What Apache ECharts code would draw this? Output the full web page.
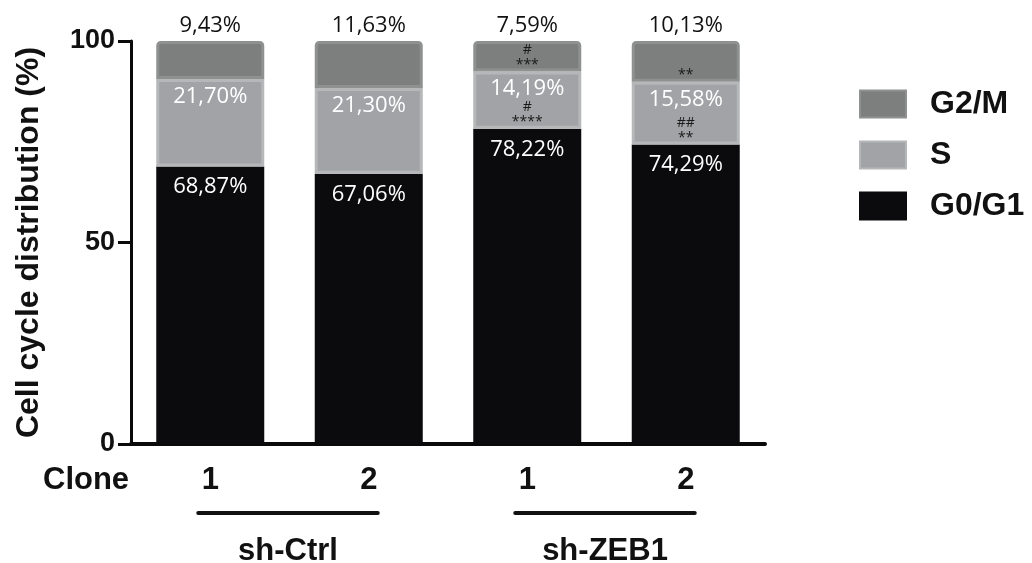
<!DOCTYPE html>
<html>
<head>
<meta charset="utf-8">
<script src="https://cdn.jsdelivr.net/npm/echarts@6/dist/echarts.min.js"></script>
<style>
html,body{margin:0;padding:0;background:#fff;}
#chart{width:1032px;height:563px;}
</style>
</head>
<body>
<div id="chart"></div>
<script>
// ---- data ----
const categories = ['1', '2', '1', '2'];
const groups = ['sh-Ctrl', 'sh-ZEB1'];
const groupSpans = [[0, 1], [2, 3]];
const g0g1 = [68.87, 67.06, 78.22, 74.29];
const sPhase = [21.70, 21.30, 14.19, 15.58];
const g2m = [9.43, 11.63, 7.59, 10.13];
const g2mMarks = [[' ', ' '], [' ', ' '], ['#', '***'], [' ', '**']];
const sMarks = [[' ', ' '], [' ', ' '], ['#', '****'], ['##', '**']];
const yTicks = { min: 0, max: 100, interval: 50 };
const seriesNames = ['G0/G1', 'S', 'G2/M'];
const legendOrder = ['G2/M', 'S', 'G0/G1'];
const yTitle = 'Cell cycle distribution (%)';
const xTitle = 'Clone';

const BOLD = "'Liberation Sans', Arial, Helvetica, sans-serif";
const LIGHT = "'Open Sans', 'Noto Sans', sans-serif";
const pct = v => v.toFixed(2).replace('.', ',') + '%';

const markRich = { fontSize: 14, lineHeight: 15, color: '#1a1a1a', fontFamily: LIGHT };

const chart = echarts.init(document.getElementById('chart'), null, { renderer: 'canvas' });

chart.setOption({
  animation: false,
  backgroundColor: '#ffffff',
  grid: { left: 131, right: 267, top: 41, bottom: 119, containLabel: false },
  legend: {
    orient: 'vertical',
    left: 859,
    top: 88,
    padding: 0,
    icon: 'rect',
    itemWidth: 46,
    itemHeight: 27,
    itemGap: 19,
    data: legendOrder,
    textStyle: { fontSize: 32, fontWeight: 'bold', color: '#111', fontFamily: BOLD, padding: [0, 0, 0, 19] }
  },
  xAxis: {
    type: 'category',
    data: categories,
    axisLine: { lineStyle: { color: '#0a0a0a', width: 4 } },
    axisTick: { show: false },
    axisLabel: { fontSize: 31, fontWeight: 'bold', color: '#111', fontFamily: BOLD, margin: 21 }
  },
  yAxis: {
    type: 'value',
    min: yTicks.min, max: yTicks.max, interval: yTicks.interval,
    name: yTitle,
    nameLocation: 'middle',
    nameRotate: 90,
    nameGap: 86,
    nameTextStyle: { fontSize: 32, fontWeight: 'bold', color: '#111', fontFamily: BOLD },
    splitLine: { show: false },
    axisLine: { show: true, lineStyle: { color: '#0a0a0a', width: 3 } },
    axisTick: { show: true, length: 13, lineStyle: { color: '#0a0a0a', width: 3 } },
    axisLabel: { fontSize: 27, fontWeight: 'bold', color: '#111', fontFamily: BOLD, margin: 16 }
  },
  series: [
    {
      name: seriesNames[0], type: 'bar', stack: 'cc', barWidth: 108,
      data: g0g1,
      itemStyle: { color: '#0b0b0d', borderColor: '#0b0b0d', borderWidth: 3 },
      label: {
        show: true, position: 'insideTop', distance: 1, offset: [0, -30],
        formatter: p => `{m|${sMarks[p.dataIndex][0]}}\n{m|${sMarks[p.dataIndex][1]}}\n{p|${pct(p.value)}}`,
        rich: { m: markRich, p: { fontSize: 22, lineHeight: 39, color: '#ffffff', fontFamily: LIGHT } }
      }
    },
    {
      name: seriesNames[1], type: 'bar', stack: 'cc', barWidth: 108,
      data: sPhase,
      itemStyle: { color: '#a2a3a6', borderColor: '#b6b7b9', borderWidth: 3 },
      label: {
        show: true, position: 'insideTop', distance: 1, offset: [0, -30],
        formatter: p => `{m|${g2mMarks[p.dataIndex][0]}}\n{m|${g2mMarks[p.dataIndex][1]}}\n{p|${pct(p.value)}}`,
        rich: { m: markRich, p: { fontSize: 22, lineHeight: 33, color: '#ffffff', fontFamily: LIGHT } }
      }
    },
    {
      name: seriesNames[2], type: 'bar', stack: 'cc', barWidth: 108,
      data: g2m,
      itemStyle: { color: '#7d7e7e', borderColor: '#8f9090', borderWidth: 3, borderRadius: [3, 3, 0, 0] },
      label: {
        show: true, position: 'top', distance: 3,
        formatter: p => pct(p.value),
        fontSize: 22, lineHeight: 24, color: '#111', fontFamily: LIGHT
      }
    }
  ]
});

// group annotations placed from the category axis scale
function px(i) { return chart.convertToPixel({ xAxisIndex: 0 }, i); }
const axisY = chart.convertToPixel({ yAxisIndex: 0 }, 0);
const gfx = [{
  type: 'text', left: 43, top: axisY + 37 - 16,
  style: { text: xTitle, fontSize: 31, fontWeight: 'bold', fill: '#111', fontFamily: BOLD }
}];
groupSpans.forEach((span, gi) => {
  const x1 = px(span[0]) - 12, x2 = px(span[1]) + 9;
  gfx.push({
    type: 'line', shape: { x1: x1, y1: axisY + 69, x2: x2, y2: axisY + 69 },
    style: { stroke: '#111', lineWidth: 4, lineCap: 'round' }
  });
  gfx.push({
    type: 'text', x: (x1 + x2) / 2, y: axisY + 107,
    style: { text: groups[gi], fontSize: 31, fontWeight: 'bold', fill: '#111', fontFamily: BOLD, align: 'center', verticalAlign: 'middle' }
  });
});
chart.setOption({ graphic: gfx });
</script>
</body>
</html>
